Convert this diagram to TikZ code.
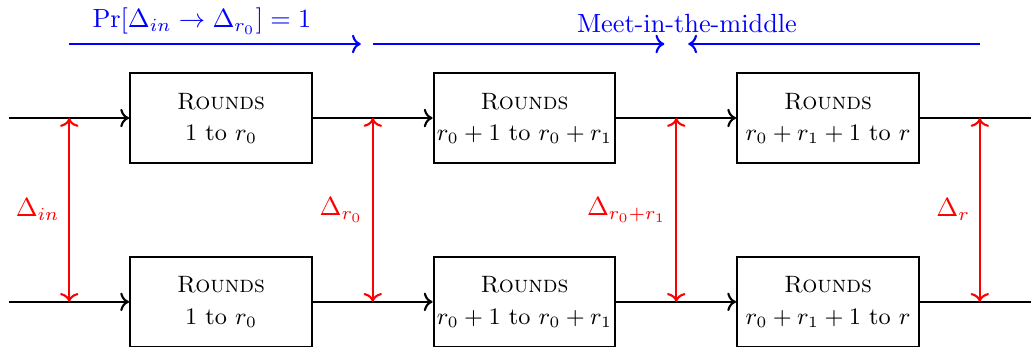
\documentclass[tikz,border=0pt]{standalone}
\usepackage{amsmath,amssymb}
\usetikzlibrary{arrows.meta,positioning,calc}

\begin{document}
\begin{tikzpicture}[
  roundbox/.style={draw, thick, minimum width=2.43cm, minimum height=1.2cm, inner sep=1pt, align=center, font=\fontsize{9}{12}\selectfont},
  flow/.style={thick, ->},
  diff/.style={thick, red, <->},
  dist/.style={thick, blue, ->, shorten >=0.16cm}
]
\useasboundingbox (0,0) rectangle (13.785,-4.639);

% Top row of rounds
\node[roundbox] (t1) at (2.955,-1.578) {\textsc{Rounds}\\1 to $r_0$};
\node[roundbox, right=1.6cm of t1] (t2) {\textsc{Rounds}\\$r_0+1$ to $r_0+r_1$};
\node[roundbox, right=1.6cm of t2] (t3) {\textsc{Rounds}\\$r_0+r_1+1$ to $r$};

% Bottom row of rounds
\node[roundbox, below=1.23cm of t1] (b1) {\textsc{Rounds}\\1 to $r_0$};
\node[roundbox, right=1.6cm of b1] (b2) {\textsc{Rounds}\\$r_0+1$ to $r_0+r_1$};
\node[roundbox, right=1.6cm of b2] (b3) {\textsc{Rounds}\\$r_0+r_1+1$ to $r$};

% Ends of the two chains
\coordinate (tin) at ([xshift=-1.6cm]t1.west);
\coordinate (bin) at ([xshift=-1.6cm]b1.west);
\coordinate (tout) at ([xshift=1.6cm]t3.east);
\coordinate (bout) at ([xshift=1.6cm]b3.east);

% Chains
\draw[flow] (tin) -- (t1);
\draw[flow] (t1) -- (t2);
\draw[flow] (t2) -- (t3);
\draw[thick] (t3.east) -- (tout);
\draw[flow] (bin) -- (b1);
\draw[flow] (b1) -- (b2);
\draw[flow] (b2) -- (b3);
\draw[thick] (b3.east) -- (bout);

% Differences between the two chains
\coordinate (d0t) at ([xshift=-0.8cm]t1.west);
\coordinate (d0b) at ([xshift=-0.8cm]b1.west);
\coordinate (d1t) at ($(t1.east)!0.5!(t2.west)$);
\coordinate (d1b) at ($(b1.east)!0.5!(b2.west)$);
\coordinate (d2t) at ($(t2.east)!0.5!(t3.west)$);
\coordinate (d2b) at ($(b2.east)!0.5!(b3.west)$);
\coordinate (d3t) at ([xshift=0.8cm]t3.east);
\coordinate (d3b) at ([xshift=0.8cm]b3.east);
\draw[diff] (d0t) -- (d0b) node[midway, left] {$\Delta_{in}$};
\draw[diff] (d1t) -- (d1b) node[midway, left] {$\Delta_{r_0}$};
\draw[diff] (d2t) -- (d2b) node[midway, left] {$\Delta_{r_0+r_1}$};
\draw[diff] (d3t) -- (d3b) node[midway, left] {$\Delta_r$};

% Distinguisher and meet-in-the-middle
\coordinate (a0) at (d0t |- 0,-0.588);
\coordinate (a1) at (d1t |- 0,-0.588);
\coordinate (a2) at (d2t |- 0,-0.588);
\coordinate (a3) at (d3t |- 0,-0.588);
\draw[dist] (a0) -- (a1);
\draw[dist] (a1) -- (a2);
\draw[dist] (a3) -- (a2);
\node[blue, anchor=base] (prob) at (2.70,-0.374) {$\Pr[\Delta_{in}\to\Delta_{r_0}]=1$};
\node[blue, anchor=base] (mitm) at (9.185,-0.441) {Meet-in-the-middle};
\end{tikzpicture}
\end{document}
